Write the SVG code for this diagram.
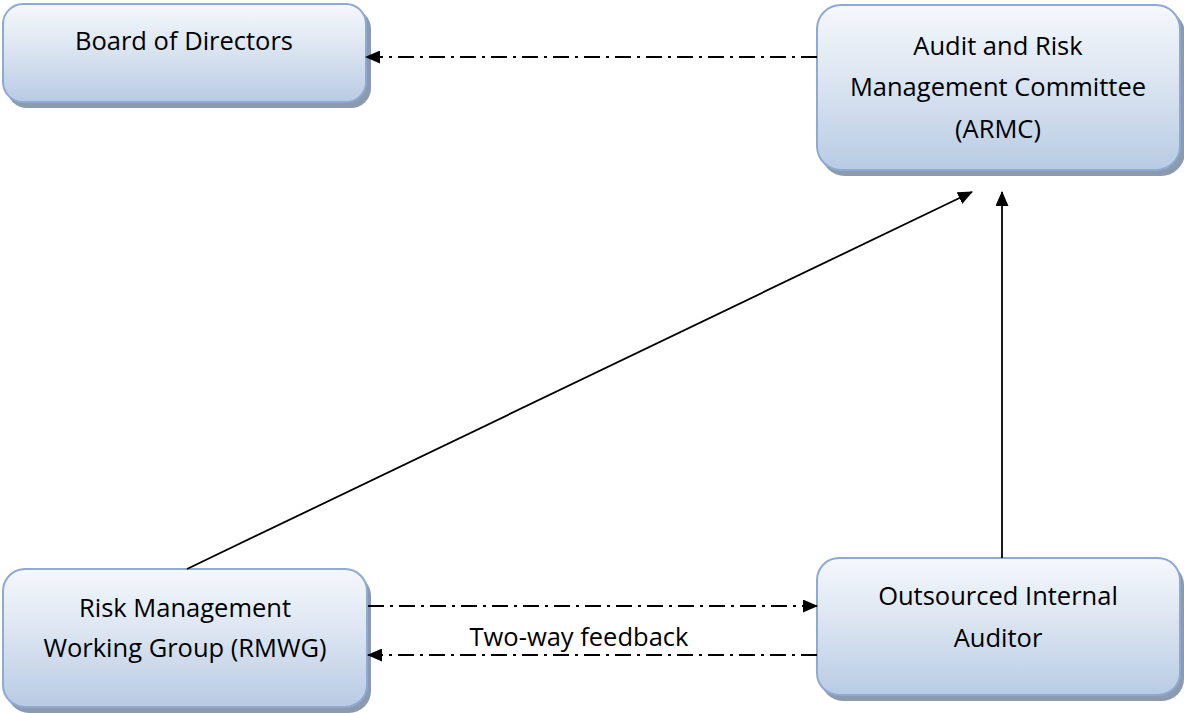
<svg xmlns="http://www.w3.org/2000/svg" width="1184" height="713" viewBox="0 0 1184 713">
<style>
.box{fill:url(#g);stroke:#8eaad2;stroke-width:2}
.sh{fill:#8c9aae}
.t{font-family:"Open Sans","Noto Sans",sans-serif;font-size:25.5px;fill:#000;text-anchor:middle;dominant-baseline:central}
.c{stroke:#000;stroke-width:1.8;fill:none}
.dd{stroke-dasharray:16 6 3 6}
</style>
<defs>
<linearGradient id="g" x1="0" y1="0" x2="0" y2="1">
<stop offset="0" stop-color="#f5f8fc"/>
<stop offset="0.5" stop-color="#d9e3f0"/>
<stop offset="1" stop-color="#b8cbe4"/>
</linearGradient>
<marker id="a" markerWidth="15" markerHeight="13" refX="14" refY="6.5" orient="auto" markerUnits="userSpaceOnUse">
<path d="M0,0 L15,6.5 L0,13 Z" fill="#000"/>
</marker>
</defs>
<rect width="1184" height="713" fill="#fff"/>
<g id="board">
<rect class="sh" x="7" y="9" width="364" height="99" rx="20"/>
<rect class="box" x="3" y="4" width="363" height="98" rx="20"/>
<text class="t" x="184" y="40">Board of Directors</text>
</g>
<g id="armc">
<rect class="sh" x="821" y="10" width="364" height="166" rx="24"/>
<rect class="box" x="817" y="5" width="363" height="165" rx="24"/>
<text class="t" x="998" y="45">Audit and Risk</text>
<text class="t" x="998" y="86">Management Committee</text>
<text class="t" x="998" y="128">(ARMC)</text>
</g>
<g id="rmwg">
<rect class="sh" x="7" y="574" width="364" height="139" rx="22"/>
<rect class="box" x="3" y="569" width="364" height="138" rx="22"/>
<text class="t" x="185" y="607">Risk Management</text>
<text class="t" x="185" y="647">Working Group (RMWG)</text>
</g>
<g id="auditor">
<rect class="sh" x="821" y="563" width="363" height="138" rx="22"/>
<rect class="box" x="817" y="558" width="363" height="137" rx="22"/>
<text class="t" x="998" y="595">Outsourced Internal</text>
<text class="t" x="998" y="637">Auditor</text>
</g>
<g id="connectors">
<line class="c dd" x1="817" y1="57" x2="366" y2="57" marker-end="url(#a)"/>
<line class="c" x1="187" y1="569" x2="972" y2="192" marker-end="url(#a)"/>
<line class="c" x1="1002" y1="558" x2="1002" y2="192" marker-end="url(#a)"/>
<line class="c dd" x1="368" y1="606" x2="817" y2="606" marker-end="url(#a)"/>
<line class="c dd" x1="817" y1="655" x2="368" y2="655" marker-end="url(#a)"/>
<text class="t" x="579" y="636">Two-way feedback</text>
</g>
</svg>
